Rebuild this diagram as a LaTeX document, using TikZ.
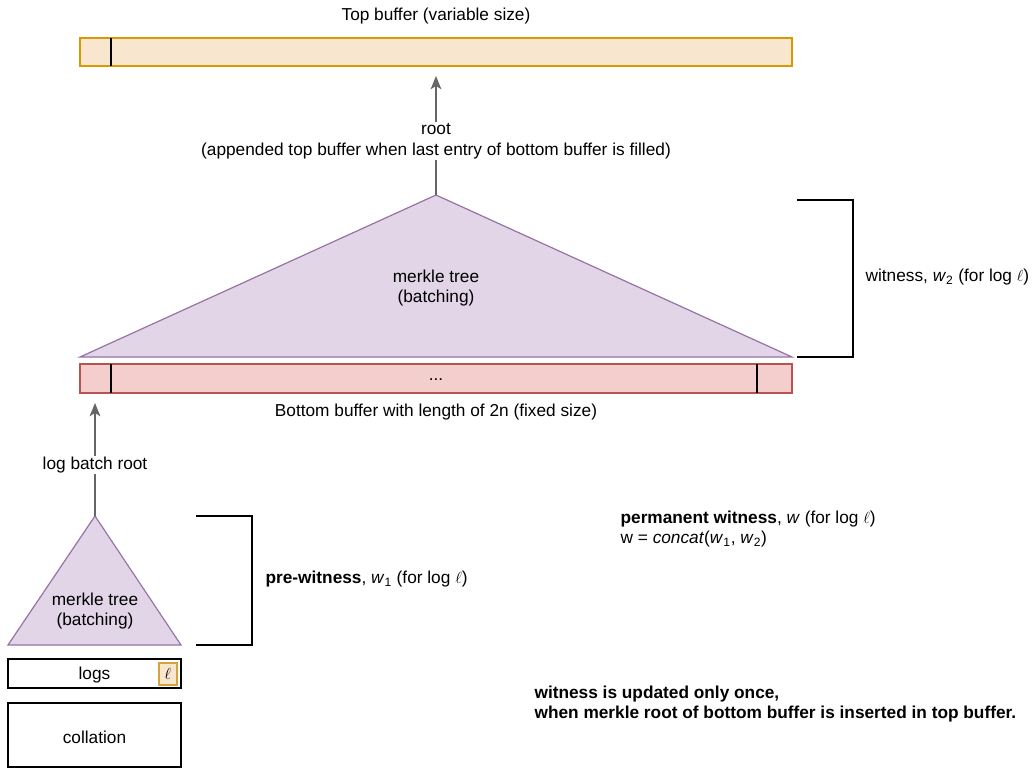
\documentclass[tikz,border=0pt]{standalone}
\usepackage{fontspec}
\setmainfont{Liberation Sans}
\usetikzlibrary{arrows.meta}

\definecolor{orfill}{HTML}{F9E6CF}
\definecolor{ordraw}{HTML}{D79B00}
\definecolor{elldraw}{HTML}{D4A43A}
\definecolor{redfill}{HTML}{F3CECC}
\definecolor{reddraw}{HTML}{B85450}
\definecolor{purfill}{HTML}{E1D5E7}
\definecolor{purdraw}{HTML}{9673A6}
\definecolor{arrgray}{HTML}{666666}

\tikzset{
  lbl/.style={font=\fontsize{12.95}{15.5}\selectfont, inner sep=1pt},
  buf/.style={draw, inner sep=0pt, line width=0.9pt},
  tri/.style={fill=purfill, draw=purdraw, line width=0.9pt, line join=miter},
  flow/.style={draw=arrgray, line width=0.9pt, -{Stealth[length=10pt,width=8pt,inset=2.5pt]}},
}

\begin{document}
\begin{tikzpicture}[x=0.75pt,y=-0.75pt]
    \useasboundingbox (0,0) rectangle (1032,776);
    % top buffer
    \node[lbl] (toplbl) at (436,16) {Top buffer (variable size)};
    \node[buf, fill=orfill, draw=ordraw, minimum width=534pt, minimum height=21pt] (topbuf) at (436,52) {};
    \draw[line width=0.9pt] (111,38) -- (111,66);
    % big merkle tree
    \coordinate (bigtop) at (436,195);
    \draw[tri] (bigtop) -- (792,357) -- (80,357) -- cycle;
    \node[lbl, align=center] (bigtree) at (436,288) {merkle tree\\(batching)};
    \draw[flow] (bigtop) -- ([yshift=-7pt]topbuf.south);
    \node[lbl, fill=white, align=center] (rootlbl) at (436,141) {root\\(appended top buffer when last entry of bottom buffer is filled)};
    \draw[line width=0.9pt] (797,200) -| (853,357) -- (797,357);
    \node[lbl, anchor=west] (wit2) at (864,277) {witness, \textit{w}\textsubscript{2} (for log $\ell$)};
    % bottom buffer
    \node[buf, fill=redfill, draw=reddraw, minimum width=534pt, minimum height=21.75pt] (botbuf) at (436,378.5) {};
    \draw[line width=0.9pt] (111,364) -- (111,393);
    \draw[line width=0.9pt] (757,364) -- (757,393);
    \node[lbl] (dots) at (436,380) {...};
    \node[lbl] (botlbl) at (436,412) {Bottom buffer with length of 2n (fixed size)};
    % small merkle tree
    \coordinate (smalltop) at (95,516);
    \draw[tri] (smalltop) -- (181,645) -- (8,645) -- cycle;
    \node[lbl, align=center] (smalltree) at (95,611) {merkle tree\\(batching)};
    \draw[flow] (smalltop) -- ([yshift=-7pt]botbuf.south west -| smalltop);
    \node[lbl, fill=white] (batchlbl) at (95,465) {log batch root};
    \draw[line width=0.9pt] (196,516) -| (252,645) -- (196,645);
    \node[lbl, anchor=west] (wit1) at (264,579) {\textbf{pre-witness}, \textit{w}\textsubscript{1} (for log $\ell$)};
    % logs and collation
    \node[buf, minimum width=129.75pt, minimum height=21.75pt] (logs) at (94.5,673.5) {};
    \node[lbl] (logslbl) at (94.5,675) {logs};
    \node[buf, fill=orfill, draw=elldraw, line width=1.3pt, minimum width=14pt, minimum height=16.5pt, font=\large] (ell) at (168,674) {$\ell$};
    \node[buf, minimum width=129.75pt, minimum height=48pt] (coll) at (94.5,735) {};
    \node[lbl] (colllbl) at (94.5,737) {collation};
    % notes
    \node[lbl, anchor=west, align=left] (perm) at (619,529) {\textbf{permanent witness}, \textit{w} (for log $\ell$)\\w = \textit{concat}(\textit{w}\textsubscript{1}, \textit{w}\textsubscript{2})};
    \node[lbl, anchor=west, align=left, font=\fontsize{12.95}{15.5}\selectfont\bfseries] (note) at (533,704) {witness is updated only once,\\when merkle root of bottom buffer is inserted in top buffer.};
\end{tikzpicture}
\end{document}
